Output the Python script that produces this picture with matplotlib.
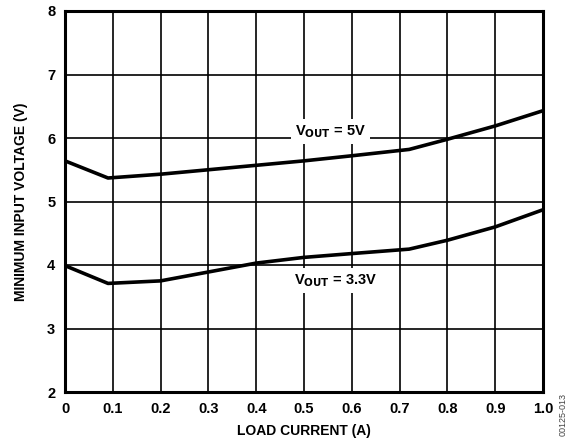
import matplotlib
matplotlib.use("Agg")
import matplotlib.pyplot as plt

plt.rcParams['font.family'] = ['Liberation Sans', 'DejaVu Sans']

# load current (A) and minimum input voltage (V)
current = [0.0, 0.09, 0.2, 0.3, 0.4, 0.5, 0.6, 0.72, 0.8, 0.9, 1.0]
vin_5v = [5.64, 5.37, 5.43, 5.50, 5.57, 5.64, 5.72, 5.82, 5.98, 6.19, 6.43]
vin_3v3 = [3.99, 3.71, 3.75, 3.89, 4.03, 4.12, 4.18, 4.25, 4.39, 4.60, 4.87]

x_ticks = [0, 0.1, 0.2, 0.3, 0.4, 0.5, 0.6, 0.7, 0.8, 0.9, 1.0]
x_labels = ['0', '0.1', '0.2', '0.3', '0.4', '0.5', '0.6', '0.7', '0.8', '0.9', '1.0']
y_ticks = [2, 3, 4, 5, 6, 7, 8]

fig = plt.figure(figsize=(5.69, 4.47), dpi=100)
ax = fig.add_axes([65 / 569, 1 - 392 / 447, 478 / 569, 381 / 447])

ax.plot(current, vin_5v, color='black', lw=2.6, solid_capstyle='round', zorder=3)
ax.plot(current, vin_3v3, color='black', lw=2.6, solid_capstyle='round', zorder=3)

ax.set_xlim(0, 1.0)
ax.set_ylim(2, 8)
ax.set_xticks(x_ticks)
ax.set_xticklabels(x_labels)
ax.set_yticks(y_ticks)
ax.grid(True, color='black', lw=1.2, zorder=1)
ax.set_axisbelow(True)
ax.tick_params(length=0, labelsize=10.5, pad=7)
for lab in ax.get_xticklabels() + ax.get_yticklabels():
    lab.set_fontweight('bold')
for sp in ax.spines.values():
    sp.set_linewidth(2.2)

ax.set_xlabel('LOAD CURRENT (A)', fontsize=10, fontweight='bold', labelpad=6)
ax.set_ylabel('MINIMUM INPUT VOLTAGE (V)', fontsize=10, fontweight='bold', labelpad=14)

box = dict(facecolor='white', edgecolor='none', pad=3)
ax.text(0.556, 6.1, r'V$_{\mathbf{OUT}}$ = 5V', fontsize=10.5, fontweight='bold',
        ha='center', va='center', bbox=box, zorder=4)
ax.text(0.565, 3.76, r'V$_{\mathbf{OUT}}$ = 3.3V', fontsize=10.5, fontweight='bold',
        ha='center', va='center', bbox=box, zorder=4)

fig.text(563 / 569, 1 - 415 / 447, '00125-013', rotation=90, fontsize=6.5,
         color='#444444', ha='center', va='center')

fig.savefig('out.png', dpi=100)
